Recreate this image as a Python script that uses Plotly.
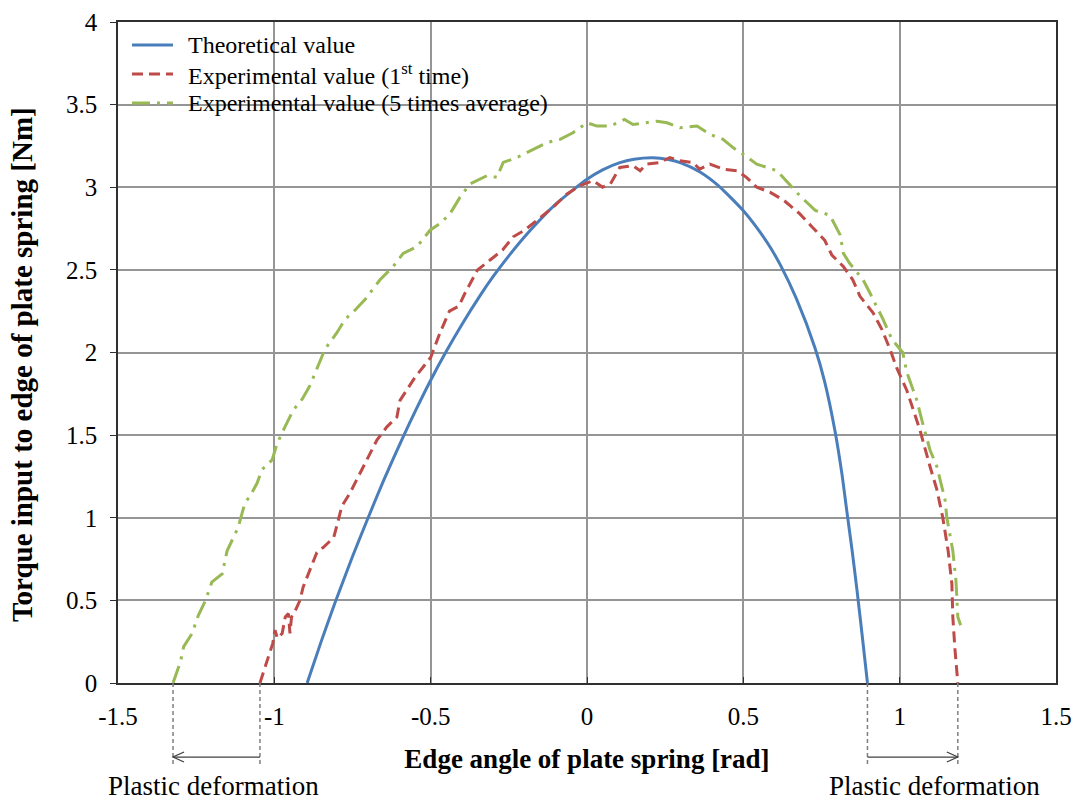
import plotly.graph_objects as go

# Theoretical torque curve
theo_x = [-0.895, -0.85, -0.806, -0.75, -0.70, -0.65, -0.588, -0.55, -0.50, -0.45,
          -0.40, -0.342, -0.30, -0.25, -0.182, -0.10, 0.0, 0.05, 0.105, 0.15,
          0.21, 0.26, 0.30, 0.36, 0.42, 0.50, 0.55, 0.585, 0.62, 0.67,
          0.729, 0.76, 0.793, 0.815, 0.831, 0.848, 0.863, 0.88, 0.897]
theo_y = [0.0, 0.252, 0.485, 0.765, 1.0, 1.228, 1.49, 1.642, 1.832, 2.007,
          2.17, 2.344, 2.46, 2.585, 2.738, 2.898, 3.048, 3.105, 3.149, 3.169,
          3.178, 3.168, 3.148, 3.094, 3.01, 2.858, 2.738, 2.64, 2.524, 2.324,
          2.029, 1.824, 1.527, 1.27, 1.04, 0.80, 0.57, 0.29, 0.0]

# Experimental value, first run
exp1_x = [-1.046, -1.023, -1.005, -0.998, -0.99, -0.975, -0.965, -0.955, -0.95, -0.945,
          -0.935, -0.918, -0.908, -0.864, -0.844, -0.81, -0.784, -0.758, -0.716, -0.672,
          -0.64, -0.608, -0.598, -0.55, -0.5, -0.47, -0.44, -0.41, -0.39, -0.35,
          -0.31, -0.27, -0.236, -0.20, -0.16, -0.108, -0.064, -0.022, 0.02, 0.05,
          0.075, 0.105, 0.147, 0.17, 0.19, 0.233, 0.265, 0.297, 0.339, 0.36,
          0.393, 0.435, 0.48, 0.51, 0.543, 0.585, 0.63, 0.68, 0.72, 0.76,
          0.783, 0.82, 0.85, 0.873, 0.915, 0.943, 0.969, 0.99, 1.023, 1.065,
          1.097, 1.119, 1.138, 1.155, 1.167, 1.17, 1.177, 1.186]
exp1_y = [0.0, 0.14, 0.24, 0.32, 0.27, 0.30, 0.40, 0.42, 0.30, 0.40,
          0.43, 0.50, 0.58, 0.79, 0.82, 0.88, 1.07, 1.15, 1.31, 1.47,
          1.55, 1.61, 1.71, 1.85, 1.97, 2.12, 2.25, 2.28, 2.36, 2.50,
          2.56, 2.62, 2.70, 2.74, 2.80, 2.88, 2.96, 3.01, 3.04, 3.00,
          3.02, 3.12, 3.13, 3.10, 3.14, 3.15, 3.18, 3.16, 3.15, 3.11,
          3.14, 3.11, 3.10, 3.06, 3.00, 2.97, 2.92, 2.84, 2.76, 2.68,
          2.59, 2.52, 2.44, 2.34, 2.24, 2.14, 2.02, 1.91, 1.77, 1.53,
          1.31, 1.17, 1.0, 0.80, 0.60, 0.40, 0.20, 0.0]

# Experimental value, average of five runs
exp5_x = [-1.324, -1.30, -1.29, -1.263, -1.243, -1.22, -1.20, -1.167, -1.151, -1.116,
          -1.094, -1.078, -1.055, -1.04, -1.007, -0.991, -0.966, -0.94, -0.91, -0.886,
          -0.86, -0.838, -0.80, -0.774, -0.74, -0.71, -0.662, -0.62, -0.588, -0.544,
          -0.502, -0.47, -0.438, -0.406, -0.374, -0.32, -0.288, -0.268, -0.224, -0.182,
          -0.128, -0.086, -0.045, 0.0, 0.032, 0.074, 0.12, 0.147, 0.19, 0.224,
          0.256, 0.297, 0.352, 0.393, 0.435, 0.467, 0.499, 0.543, 0.608, 0.65,
          0.68, 0.73, 0.777, 0.81, 0.82, 0.84, 0.883, 0.905, 0.947, 0.975,
          1.01, 1.023, 1.055, 1.071, 1.097, 1.119, 1.145, 1.151, 1.17, 1.18,
          1.186, 1.195]
exp5_y = [0.0, 0.13, 0.22, 0.30, 0.41, 0.50, 0.61, 0.66, 0.80, 0.94,
          1.09, 1.13, 1.21, 1.29, 1.35, 1.45, 1.55, 1.65, 1.72, 1.80,
          1.92, 2.02, 2.12, 2.20, 2.26, 2.32, 2.44, 2.52, 2.60, 2.64,
          2.74, 2.78, 2.84, 2.94, 3.02, 3.07, 3.06, 3.15, 3.18, 3.22,
          3.27, 3.29, 3.33, 3.39, 3.37, 3.37, 3.41, 3.38, 3.39, 3.40,
          3.39, 3.36, 3.37, 3.32, 3.29, 3.24, 3.20, 3.14, 3.10, 3.01,
          2.95, 2.86, 2.83, 2.71, 2.60, 2.54, 2.44, 2.36, 2.20, 2.08,
          2.0, 1.88, 1.71, 1.59, 1.41, 1.31, 1.11, 1.0, 0.80, 0.62,
          0.40, 0.35]

x_ticks = [-1.5, -1, -0.5, 0, 0.5, 1, 1.5]
x_tick_text = ["-1.5", "-1", "-0.5", "0", "0.5", "1", "1.5"]
y_ticks = [0, 0.5, 1, 1.5, 2, 2.5, 3, 3.5, 4]
y_tick_text = ["0", "0.5", "1", "1.5", "2", "2.5", "3", "3.5", "4"]

series_names = ["Theoretical value",
                "Experimental value (1<sup>st</sup> time)",
                "Experimental value (5 times average)"]
series_colors = ["#4A7EBB", "#BE4B48", "#98B954"]
series_dash = ["solid", "11px,6px", "18px,7px,3px,7px"]

SERIF = "Liberation Serif, Times New Roman, serif"
GRID = "#959595"
ARROW = "#404040"

fig = go.Figure()
fig.add_trace(go.Scatter(
    x=theo_x, y=theo_y, mode="lines", name=series_names[0],
    line=dict(color=series_colors[0], width=3, dash=series_dash[0],
              shape="spline", smoothing=0.6)))
fig.add_trace(go.Scatter(
    x=exp1_x, y=exp1_y, mode="lines", name=series_names[1],
    line=dict(color=series_colors[1], width=3, dash=series_dash[1])))
fig.add_trace(go.Scatter(
    x=exp5_x, y=exp5_y, mode="lines", name=series_names[2],
    line=dict(color=series_colors[2], width=3, dash=series_dash[2])))

# Key box in the upper-left corner: white panel over the grid, sample line + label per series
fig.add_shape(type="rect", xref="paper", yref="paper", x0=0.0, x1=0.479, y0=0.852, y1=0.995,
              fillcolor="white", line=dict(width=0), layer="between")
key_rows = [0.9652, 0.9213, 0.8775]
for yk, name, col, dsh in zip(key_rows, series_names, series_colors, series_dash):
    fig.add_shape(type="line", xref="paper", yref="paper", x0=0.0149, x1=0.0586, y0=yk, y1=yk,
                  line=dict(color=col, width=3, dash=dsh))
    fig.add_annotation(x=0.0725, y=yk, xref="paper", yref="paper", text=name,
                       showarrow=False, xanchor="left", yanchor="middle",
                       font=dict(family=SERIF, size=24, color="black"))

# Dashed guides marking where each curve meets the x-axis
left_a, left_b = exp5_x[0], exp1_x[0]
right_a, right_b = theo_x[-1], exp1_x[-1]
for xv in (left_a, left_b, right_a, right_b):
    fig.add_shape(type="line", xref="x", yref="paper", x0=xv, x1=xv, y0=0, y1=-0.124,
                  line=dict(color="#7F7F7F", width=1.5, dash="4px,3px"))

# Arrows spanning the plastic deformation ranges (shaft + open V head)
ARROW_Y = -0.112
for head, tail in ((left_a, left_b), (right_b, right_a)):
    fig.add_shape(type="line", xref="x", yref="paper", x0=tail, x1=head, y0=ARROW_Y, y1=ARROW_Y,
                  line=dict(color=ARROW, width=1.3))
    back = 11 if head < tail else -11
    fig.add_shape(type="path", xref="x", yref="paper",
                  xsizemode="pixel", ysizemode="pixel", xanchor=head, yanchor=ARROW_Y,
                  path=f"M {back},5 L 0,0 L {back},-5",
                  line=dict(color=ARROW, width=1.3))

for xc in (-1.196, 1.11):
    fig.add_annotation(x=xc, y=-0.156, xref="x", yref="paper", text="Plastic deformation",
                       showarrow=False, font=dict(family=SERIF, size=27, color="black"),
                       xanchor="center", yanchor="middle")

# Vertical axis title
fig.add_annotation(x=-0.1023, y=0.481, xref="paper", yref="paper",
                   text="<b>Torque input to edge of plate spring [Nm]</b>", textangle=-90,
                   showarrow=False, xanchor="center", yanchor="middle",
                   font=dict(family=SERIF, size=29, color="black"))

fig.update_layout(
    width=1075, height=801,
    margin=dict(l=118, r=19, t=22, b=118),
    paper_bgcolor="white", plot_bgcolor="white",
    font=dict(family=SERIF, color="black"),
    showlegend=False,
    xaxis=dict(
        range=[-1.5, 1.5], tickvals=x_ticks, ticktext=x_tick_text, automargin=False,
        showgrid=True, gridcolor=GRID, gridwidth=1.5, zeroline=False,
        showline=True, linecolor="#303030", linewidth=1.5, mirror=True,
        ticks="inside", ticklen=6, tickcolor="#303030",
        tickfont=dict(family=SERIF, size=25, color="black"),
        ticklabelstandoff=10,
        title=dict(text="<b>Edge angle of plate spring [rad]</b>", standoff=20,
                   font=dict(family=SERIF, size=27, color="black")),
    ),
    yaxis=dict(
        range=[0, 4], tickvals=y_ticks, ticktext=y_tick_text, automargin=False,
        showgrid=True, gridcolor=GRID, gridwidth=1.5, zeroline=False,
        showline=True, linecolor="#303030", linewidth=1.5, mirror=True,
        ticks="outside", ticklen=6, tickcolor="#303030",
        tickfont=dict(family=SERIF, size=25, color="black"),
        ticklabelstandoff=8,
    ),
)

fig.write_html("out.html")
